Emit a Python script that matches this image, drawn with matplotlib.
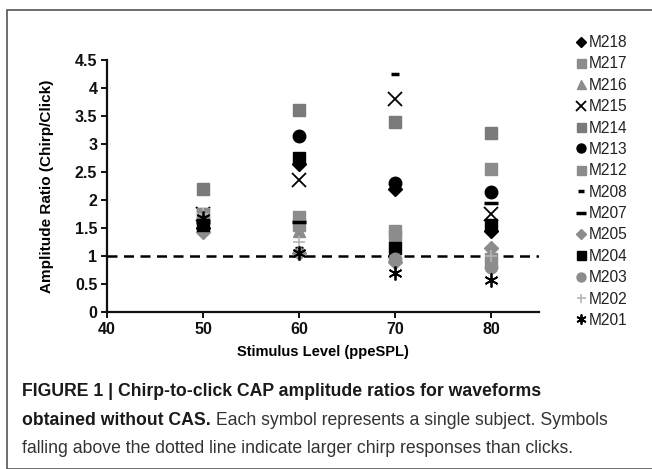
import numpy as np
import matplotlib
matplotlib.use("Agg")
import matplotlib.pyplot as plt
from matplotlib.patches import Rectangle

plt.rcParams['font.family'] = ['Liberation Sans', 'DejaVu Sans']

nan = np.nan
levels = [50, 60, 70, 80]
subjects = ["M218", "M217", "M216", "M215", "M214", "M213", "M212",
            "M208", "M207", "M205", "M204", "M203", "M202", "M201"]
M218 = [1.50, 2.65, 2.20, 1.45]
M217 = [1.75, 1.70, 1.45, 0.95]
M216 = [nan, 1.45, 1.00, 0.90]
M215 = [1.75, 2.35, 3.80, 1.75]
M214 = [2.20, 3.60, 3.40, 3.20]
M213 = [nan, 3.15, 2.30, 2.15]
M212 = [1.75, 1.55, 1.35, 2.55]
M208 = [nan, 1.15, 4.25, nan]
M207 = [1.60, 1.60, nan, 1.95]
M205 = [1.42, 1.05, 0.90, 1.15]
M204 = [1.55, 2.75, 1.15, 1.55]
M203 = [nan, nan, 0.95, 0.80]
M202 = [1.75, 1.25, nan, 1.00]
M201 = [1.68, 1.05, 0.70, 0.58]
values = [M218, M217, M216, M215, M214, M213, M212,
          M208, M207, M205, M204, M203, M202, M201]
xticks = [40, 50, 60, 70, 80]
yticks = [0, 0.5, 1, 1.5, 2, 2.5, 3, 3.5, 4, 4.5]
ytick_labels = ["0", "0.5", "1", "1.5", "2", "2.5", "3", "3.5", "4", "4.5"]

black = "#000000"
grey = "#8c8c8c"
dgrey = "#7a7a7a"
lgrey = "#b5b5b5"
styles = {
    "M218": dict(marker="D", color=black, ms=7),
    "M217": dict(marker="s", color=grey, ms=9),
    "M216": dict(marker="^", color=grey, ms=9),
    "M215": dict(marker="x", color=black, ms=10, mew=1.3),
    "M214": dict(marker="s", color=dgrey, ms=9),
    "M213": dict(marker="o", color=black, ms=9),
    "M212": dict(marker="s", color=grey, ms=9),
    "M208": dict(marker="_", color=black, ms=6, mew=2.5),
    "M207": dict(marker="_", color=black, ms=10, mew=2.5),
    "M205": dict(marker="D", color=grey, ms=7),
    "M204": dict(marker="s", color=black, ms=9),
    "M203": dict(marker="o", color=grey, ms=9),
    "M202": dict(marker="+", color=lgrey, ms=9, mew=1.2),
    "M201": dict(marker=(6, 2, 0), color=black, ms=10, mew=1.3),
}

W, H = 652, 469
fig = plt.figure(figsize=(W / 100, H / 100), dpi=100)

def fx(px):
    return px / W

def fy(py):
    return 1 - py / H

ax = fig.add_axes([fx(107), fy(312), fx(539) - fx(107), fy(60) - fy(312)])

handles = []
for name, vals in zip(subjects, values):
    st = styles[name]
    h, = ax.plot(levels, vals, linestyle="none", marker=st["marker"],
                 color=st["color"], markersize=st["ms"],
                 markeredgewidth=st.get("mew", 1.0), label=name,
                 clip_on=False, zorder=3)
    handles.append(h)

ax.axhline(1, color=black, linestyle=(0, (4, 2.6)), linewidth=1.8, zorder=2)

ax.set_xlim(40, 85)
ax.set_ylim(0, 4.5)
ax.set_xticks(xticks)
ax.set_xticklabels([str(v) for v in xticks], fontweight="bold", fontsize=11.5)
ax.set_yticks(yticks)
ax.set_yticklabels(ytick_labels, fontweight="bold", fontsize=11.5)
for s in ["top", "right"]:
    ax.spines[s].set_visible(False)
for s in ["left", "bottom"]:
    ax.spines[s].set_linewidth(1.6)
    ax.spines[s].set_color("#111111")
ax.tick_params(direction="out", length=4, width=1.4, pad=3, colors="#111111")
ax.set_xlabel("Stimulus Level (ppeSPL)", fontweight="bold", fontsize=10.5, labelpad=6)
ax.set_ylabel("Amplitude Ratio (Chirp/Click)", fontweight="bold", fontsize=11, labelpad=15)

leg = fig.legend(handles=handles, loc="upper left",
                 bbox_to_anchor=(fx(576), fy(35)), frameon=False,
                 fontsize=11.2, handlelength=0.7, handletextpad=0.15,
                 labelspacing=0.41, markerscale=0.72, borderpad=0,
                 borderaxespad=0)
for t in leg.get_texts():
    t.set_color("#222222")

# outer frame
fig.add_artist(Rectangle((fx(7), 0), 1, fy(10), transform=fig.transFigure,
                         fill=False, edgecolor="#555555", linewidth=1.2))

cap_size = 12.7
t1 = fig.text(fx(22), fy(392), "FIGURE 1 | Chirp-to-click CAP amplitude ratios for waveforms",
              fontweight="bold", fontsize=cap_size, va="center", ha="left", color="#1a1a1a")
t2 = fig.text(fx(22), fy(420), "obtained without CAS.", fontweight="bold",
              fontsize=cap_size, va="center", ha="left", color="#1a1a1a")
ax.annotate(" Each symbol represents a single subject. Symbols", xy=(1, 0),
            xycoords=t2, va="bottom", ha="left", fontsize=cap_size,
            color="#333333", annotation_clip=False)
fig.text(fx(22), fy(448), "falling above the dotted line indicate larger chirp responses than clicks.",
         fontsize=cap_size, va="center", ha="left", color="#333333")

fig.savefig("out.png", dpi=100)
